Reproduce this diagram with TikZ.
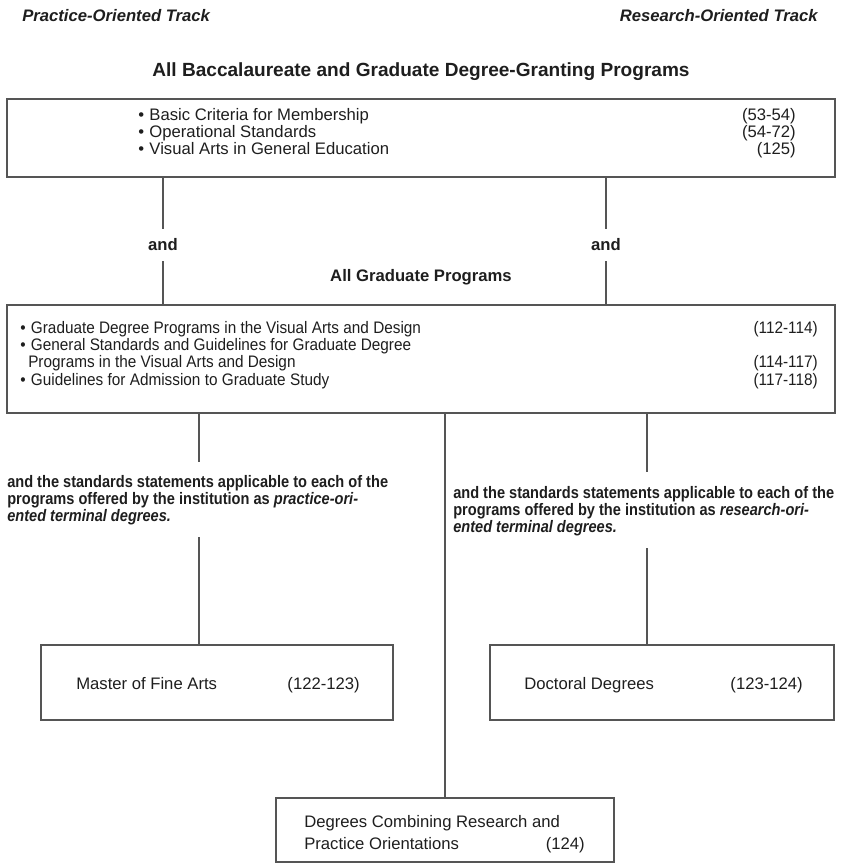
\documentclass[tikz,border=0pt]{standalone}
\usepackage{fontspec}
\setmainfont{Liberation Sans}
\newfontfamily\narrowfont[FakeStretch=0.875]{Liberation Sans}
\newfontfamily\semifont[FakeStretch=0.92]{Liberation Sans}
\definecolor{linegray}{HTML}{555555}
\definecolor{ink}{HTML}{1E1E1E}
\begin{document}
\begin{tikzpicture}[x=0.75pt,y=-0.75pt,
  box/.style={draw=linegray, line width=1.1pt, inner sep=0pt},
  conn/.style={draw=linegray, line width=0.9pt},
  txt/.style={anchor=base west, inner sep=0pt, text=ink, font=\fontsize{12.5}{15}\selectfont},
  num/.style={anchor=base east, inner sep=0pt, text=ink, font=\fontsize{12.5}{15}\selectfont},
  stxt/.style={anchor=base west, inner sep=0pt, text=ink, font=\semifont\fontsize{12.5}{15}\selectfont},
  snum/.style={anchor=base east, inner sep=0pt, text=ink, font=\semifont\fontsize{12.5}{15}\selectfont},
  btxt/.style={anchor=base west, inner sep=0pt, text=ink, font=\narrowfont\bfseries\fontsize{12.5}{15}\selectfont},
  head/.style={inner sep=0pt, text=ink, font=\bfseries\fontsize{12.5}{15}\selectfont},
  bighead/.style={inner sep=0pt, text=ink, font=\bfseries\fontsize{14.3}{17}\selectfont},
  trackl/.style={anchor=base west, inner sep=0pt, text=ink, font=\bfseries\itshape\fontsize{12.5}{15}\selectfont},
  trackr/.style={anchor=base east, inner sep=0pt, text=ink, font=\bfseries\itshape\fontsize{12.5}{15}\selectfont}]
\useasboundingbox (0,0) rectangle (841,864);

% track headings
\node[trackl] (tl) at (22,21) {Practice-Oriented Track};
\node[trackr] (tr) at (818,21) {Research-Oriented Track};
\node[bighead] (h1) at (421,72) {All Baccalaureate and Graduate Degree-Granting Programs};

% box 1
\node[box, minimum width=621pt, minimum height=58.5pt] (b1) at (421,138) {};
\node[txt] (b1a) at (138,120) {•\hspace{4pt}Basic Criteria for Membership};
\node[txt] (b1b) at (138,137) {•\hspace{4pt}Operational Standards};
\node[txt] (b1c) at (138,154) {•\hspace{4pt}Visual Arts in General Education};
\node[num] (n1a) at (796,120) {(53-54)};
\node[num] (n1b) at (796,137) {(54-72)};
\node[num] (n1c) at (796,154) {(125)};

% and labels
\node[head, inner sep=7.5pt] (andL) at (163,245) {and};
\node[head, inner sep=7.5pt] (andR) at (606,245) {and};
\node[head] (h2) at (421,277) {All Graduate Programs};

% box 2
\node[box, minimum width=621pt, minimum height=81pt] (b2) at (421,359) {};
\node[stxt] (b2a) at (20,333) {•\hspace{4pt}Graduate Degree Programs in the Visual Arts and Design};
\node[stxt] (b2b) at (20,350) {•\hspace{4pt}General Standards and Guidelines for Graduate Degree};
\node[stxt] (b2c) at (28,367) {Programs in the Visual Arts and Design};
\node[stxt] (b2d) at (20,385) {•\hspace{4pt}Guidelines for Admission to Graduate Study};
\node[snum] (n2a) at (818,333) {(112-114)};
\node[snum] (n2c) at (818,367) {(114-117)};
\node[snum] (n2d) at (818,385) {(117-118)};

% connectors box1 -> box2
\draw[conn] (b1.south -| andL) -- (andL.north);
\draw[conn] (andL.south) -- (b2.north -| andL);
\draw[conn] (b1.south -| andR) -- (andR.north);
\draw[conn] (andR.south) -- (b2.north -| andR);

% left explanatory text
\node[btxt] (la) at (7,487) {and the standards statements applicable to each of the};
\node[btxt] (lb) at (7,504) {programs offered by the institution as \textit{practice-ori-}};
\node[btxt] (lc) at (7,521) {\textit{ented terminal degrees.}};
% right explanatory text
\node[btxt] (ra) at (453,498) {and the standards statements applicable to each of the};
\node[btxt] (rb) at (453,515) {programs offered by the institution as \textit{research-ori-}};
\node[btxt] (rc) at (453,532) {\textit{ented terminal degrees.}};

% degree boxes
\node[box, minimum width=264pt, minimum height=56.25pt] (mfa) at (217,682.5) {};
\node[txt] (mfat) at (76,689) {Master of Fine Arts};
\node[num] (mfan) at (360,689) {(122-123)};
\node[box, minimum width=258pt, minimum height=56.25pt] (doc) at (662,682.5) {};
\node[txt] (doct) at (524,689) {Doctoral Degrees};
\node[num] (docn) at (803,689) {(123-124)};
\node[box, minimum width=253.5pt, minimum height=48pt] (comb) at (445,830) {};
\node[txt] (combt1) at (304,827) {Degrees Combining Research and};
\node[txt] (combt2) at (304,849) {Practice Orientations};
\node[num] (combn) at (585,849) {(124)};

% connectors box2 -> degree boxes
\coordinate (lx1) at (199,462);
\coordinate (lx2) at (199,537);
\coordinate (rx1) at (647,472);
\coordinate (rx2) at (647,548);
\draw[conn] (b2.south -| lx1) -- (lx1);
\draw[conn] (lx2) -- (mfa.north -| lx2);
\draw[conn] (b2.south -| rx1) -- (rx1);
\draw[conn] (rx2) -- (doc.north -| rx2);
\draw[conn] (b2.south -| comb.north) -- (comb.north);
\end{tikzpicture}
\end{document}
